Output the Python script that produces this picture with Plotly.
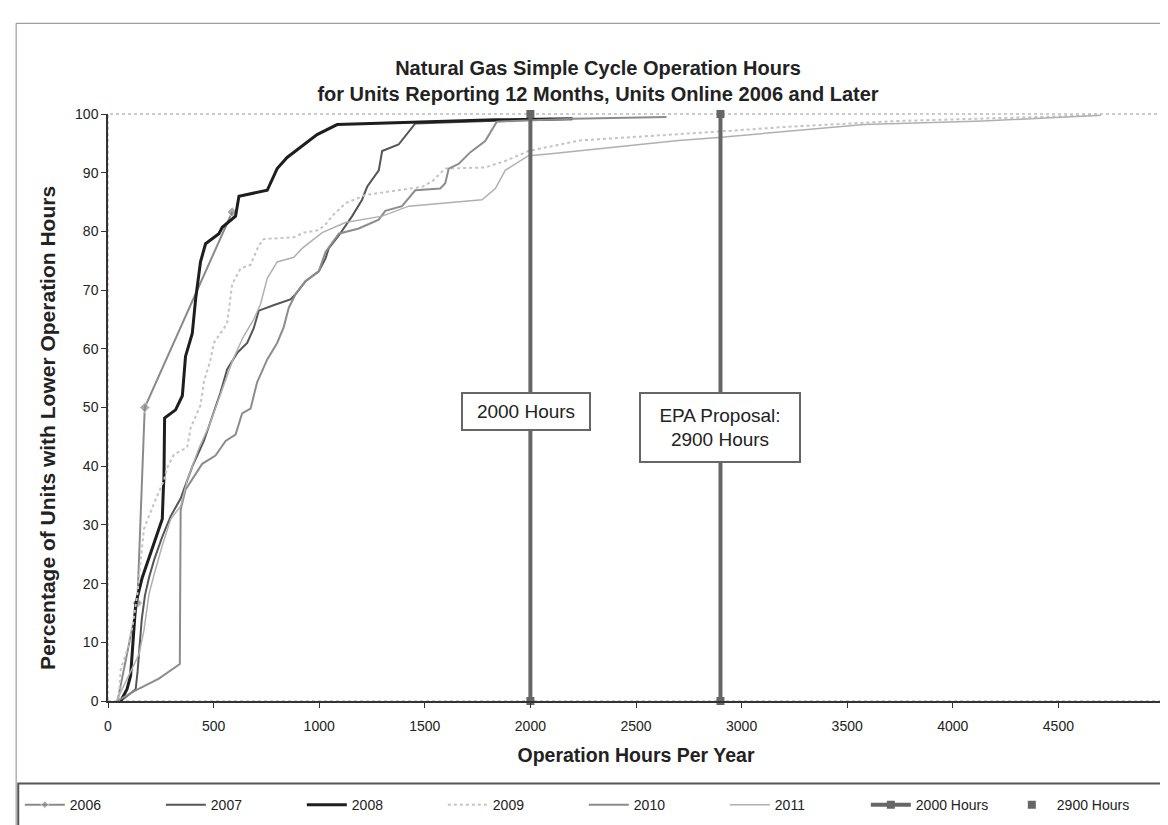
import plotly.graph_objects as go

# ---------------- data (hours, percent) ----------------
x2006 = [45, 139, 174, 588]
y2006 = [0, 16.7, 50, 83.3]

x2007 = [60, 131, 140, 150, 160, 175, 194, 218, 257, 297, 344, 359, 400, 454, 500, 533, 564, 612, 659, 690,
         706, 714, 790, 864, 888, 935, 998, 1030, 1045, 1093, 1156, 1203, 1227, 1282, 1298, 1376, 1455, 1834, 2100]
y2007 = [0, 2, 5, 10, 14, 18, 21, 24, 28, 31.5, 34.5, 36, 40, 44.3, 49, 52.6, 56.5, 59.3, 61, 63.5,
         65.5, 66.5, 67.5, 68.4, 69.3, 71.5, 73.2, 75.4, 77.1, 79.3, 82.6, 85.4, 87.6, 90.4, 93.7, 94.8, 98.4, 98.9, 99.2]

x2008 = [60, 90, 107, 131, 162, 218, 257, 262, 265, 268, 320, 352, 367, 399, 415, 438, 462, 525, 541, 604,
         620, 754, 801, 848, 927, 990, 1085, 1266, 1455, 1834, 2200]
y2008 = [0, 2, 4.3, 16.5, 21, 27, 31, 36, 38.2, 48.2, 49.6, 52, 58.7, 62.6, 68.5, 74.8, 77.9, 79.6, 80.7, 82.6,
         86, 87, 90.7, 92.6, 94.8, 96.5, 98.2, 98.4, 98.6, 99.0, 99.2]

x2009 = [50, 60, 91, 115, 139, 155, 170, 218, 265, 281, 312, 375, 391, 438, 454, 486, 501, 564, 580, 588,
         628, 675, 714, 738, 880, 927, 998, 1030, 1061, 1124, 1219, 1329, 1487, 1534, 1597, 1786, 1881, 1991,
         2235, 2890, 3207, 3732, 4702]
y2009 = [0, 5.4, 8.7, 12.6, 18.2, 23.7, 29.3, 33.7, 37.6, 39.8, 42, 43.2, 46.5, 50.4, 54.3, 58.2, 61, 64.3, 69.3, 71,
         73.7, 74.3, 77.6, 78.7, 79, 79.8, 80.2, 81.2, 82.6, 84.8, 86.2, 86.8, 87.6, 88.5, 90.7, 90.9, 92, 93.7,
         95.5, 97, 97.8, 98.8, 99.8]

x2010 = [43, 131, 241, 340, 344, 367, 446, 509, 557, 604, 635, 675, 706, 754, 801, 832, 856, 888, 935, 998,
         1030, 1077, 1093, 1187, 1282, 1313, 1392, 1455, 1573, 1597, 1613, 1660, 1716, 1786, 1841, 2200, 2644]
y2010 = [0, 1.8, 3.8, 6.3, 32.6, 36, 40.4, 41.8, 44.3, 45.4, 49, 49.8, 54.3, 58.2, 61, 63.7, 67, 69.3, 71.5, 73.2,
         76.5, 78.7, 79.6, 80.5, 82, 83.5, 84.3, 87, 87.3, 88.2, 90.7, 91.5, 93.5, 95.4, 98.7, 99.2, 99.5]

x2011 = [40, 80, 120, 147, 170, 194, 218, 257, 297, 344, 375, 430, 480, 540, 590, 640, 690, 722, 754, 801,
         856, 880, 919, 1014, 1124, 1298, 1424, 1597, 1771, 1834, 1881, 1991, 2086, 2701, 2890, 3581, 4143, 4702]
y2011 = [0, 3, 6, 8, 12, 18.2, 21.5, 26.5, 31, 33.2, 37.6, 43, 47, 53, 58, 62, 65, 67.6, 72, 74.8,
         75.4, 75.6, 77.1, 79.8, 81.5, 82.6, 84.3, 84.8, 85.4, 87.3, 90.4, 92.9, 93.2, 95.5, 96, 98.2, 98.8, 99.8]

x2000 = [2000, 2000]
y2000 = [0, 100]
x2900 = [2900, 2900]
y2900 = [0, 100]

tick_vals_x = [0, 500, 1000, 1500, 2000, 2500, 3000, 3500, 4000, 4500, 5000]
tick_vals_y = [0, 10, 20, 30, 40, 50, 60, 70, 80, 90, 100]

FONT = "Liberation Sans, Arial, sans-serif"

fig = go.Figure()

fig.add_trace(go.Scatter(x=x2006, y=y2006, name="2006", mode="lines+markers",
                         line=dict(color="#8a8a8a", width=2),
                         marker=dict(symbol="diamond", size=[0, 8, 8, 8], color="#8a8a8a")))
fig.add_trace(go.Scatter(x=x2007, y=y2007, name="2007", mode="lines",
                         line=dict(color="#555555", width=2)))
fig.add_trace(go.Scatter(x=x2008, y=y2008, name="2008", mode="lines",
                         line=dict(color="#1e1e1e", width=3)))
fig.add_trace(go.Scatter(x=x2009, y=y2009, name="2009", mode="lines",
                         line=dict(color="#c4c4c4", width=2, dash="dot")))
fig.add_trace(go.Scatter(x=x2010, y=y2010, name="2010", mode="lines",
                         line=dict(color="#8c8c8c", width=2)))
fig.add_trace(go.Scatter(x=x2011, y=y2011, name="2011", mode="lines",
                         line=dict(color="#b0b0b0", width=1.5)))
fig.add_trace(go.Scatter(x=x2000, y=y2000, name="2000 Hours", mode="lines+markers",
                         line=dict(color="#666666", width=4),
                         marker=dict(symbol="square", size=8, color="#666666"),
                         cliponaxis=False))
fig.add_trace(go.Scatter(x=x2900, y=y2900, name="2900 Hours_line", mode="lines", showlegend=False,
                         line=dict(color="#666666", width=4), cliponaxis=False))
fig.add_trace(go.Scatter(x=x2900, y=y2900, name="2900 Hours", mode="markers",
                         marker=dict(symbol="square", size=8, color="#666666"),
                         cliponaxis=False))

fig.add_annotation(x=1980, y=49.3, xref="x", yref="y", text="2000 Hours", showarrow=False,
                   font=dict(family=FONT, size=19, color="#222"), width=114, height=23, align="center",
                   bgcolor="white", bordercolor="#666666", borderwidth=2, borderpad=6)
fig.add_annotation(x=2897, y=46.6, xref="x", yref="y", text="EPA Proposal:<br>2900 Hours", showarrow=False,
                   font=dict(family=FONT, size=19, color="#222"), width=146, height=55, align="center",
                   bgcolor="white", bordercolor="#666666", borderwidth=2, borderpad=6)

# y-axis title as an annotation (sits slightly below the plot centre in the original)
fig.add_annotation(x=-0.0577, y=0.465, xref="paper", yref="paper", showarrow=False, textangle=-90,
                   xanchor="center", yanchor="middle",
                   text="<b>Percentage of Units with Lower Operation Hours</b>",
                   font=dict(family=FONT, size=21, color="#222"))

# plot-area border (dotted), outer chart border, legend box
fig.add_shape(type="rect", xref="paper", yref="paper", x0=0, x1=1, y0=0, y1=1,
              line=dict(color="#999999", width=1, dash="dot"), layer="below")
fig.add_shape(type="rect", xref="paper", yref="paper", x0=-0.087, x1=1.06, y0=-0.3, y1=1.1545,
              line=dict(color="#888888", width=1))
fig.add_shape(type="rect", xref="paper", yref="paper", x0=-0.085, x1=1.06, y0=-0.3, y1=-0.1405,
              line=dict(color="#555555", width=2))

fig.update_layout(
    width=1168, height=825,
    margin=dict(l=99, r=12, t=106, b=119),
    paper_bgcolor="white", plot_bgcolor="white",
    font=dict(family=FONT, size=15, color="#222"),
    title=dict(text="<b>Natural Gas Simple Cycle Operation Hours<br>for Units Reporting 12 Months, Units Online 2006 and Later</b>",
               x=590 / 1168, xanchor="center", xref="container",
               y=1 - 66.5 / 825, yanchor="middle", yref="container",
               font=dict(family=FONT, size=20, color="#222")),
    showlegend=True,
    legend=dict(orientation="h", x=-0.0835, xanchor="left", y=-0.150, yanchor="top",
                entrywidth=86, entrywidthmode="pixels", font=dict(family=FONT, size=14),
                bgcolor="rgba(0,0,0,0)", borderwidth=0, itemwidth=40),
)
fig.update_xaxes(range=[0, 5000], tickvals=tick_vals_x, showgrid=False, zeroline=False,
                 showline=True, linecolor="#333", linewidth=1.5, ticks="outside", ticklen=5,
                 tickcolor="#333", tickfont=dict(family=FONT, size=14), ticklabelstandoff=6,
                 title=dict(text="<b>Operation Hours Per Year</b>", font=dict(family=FONT, size=19.5), standoff=16))
fig.update_yaxes(range=[0, 100], tickvals=tick_vals_y, showgrid=False, zeroline=False,
                 showline=True, linecolor="#333", linewidth=1.5, ticks="outside", ticklen=5,
                 tickcolor="#333", tickfont=dict(family=FONT, size=14))

fig.write_html("out.html")
